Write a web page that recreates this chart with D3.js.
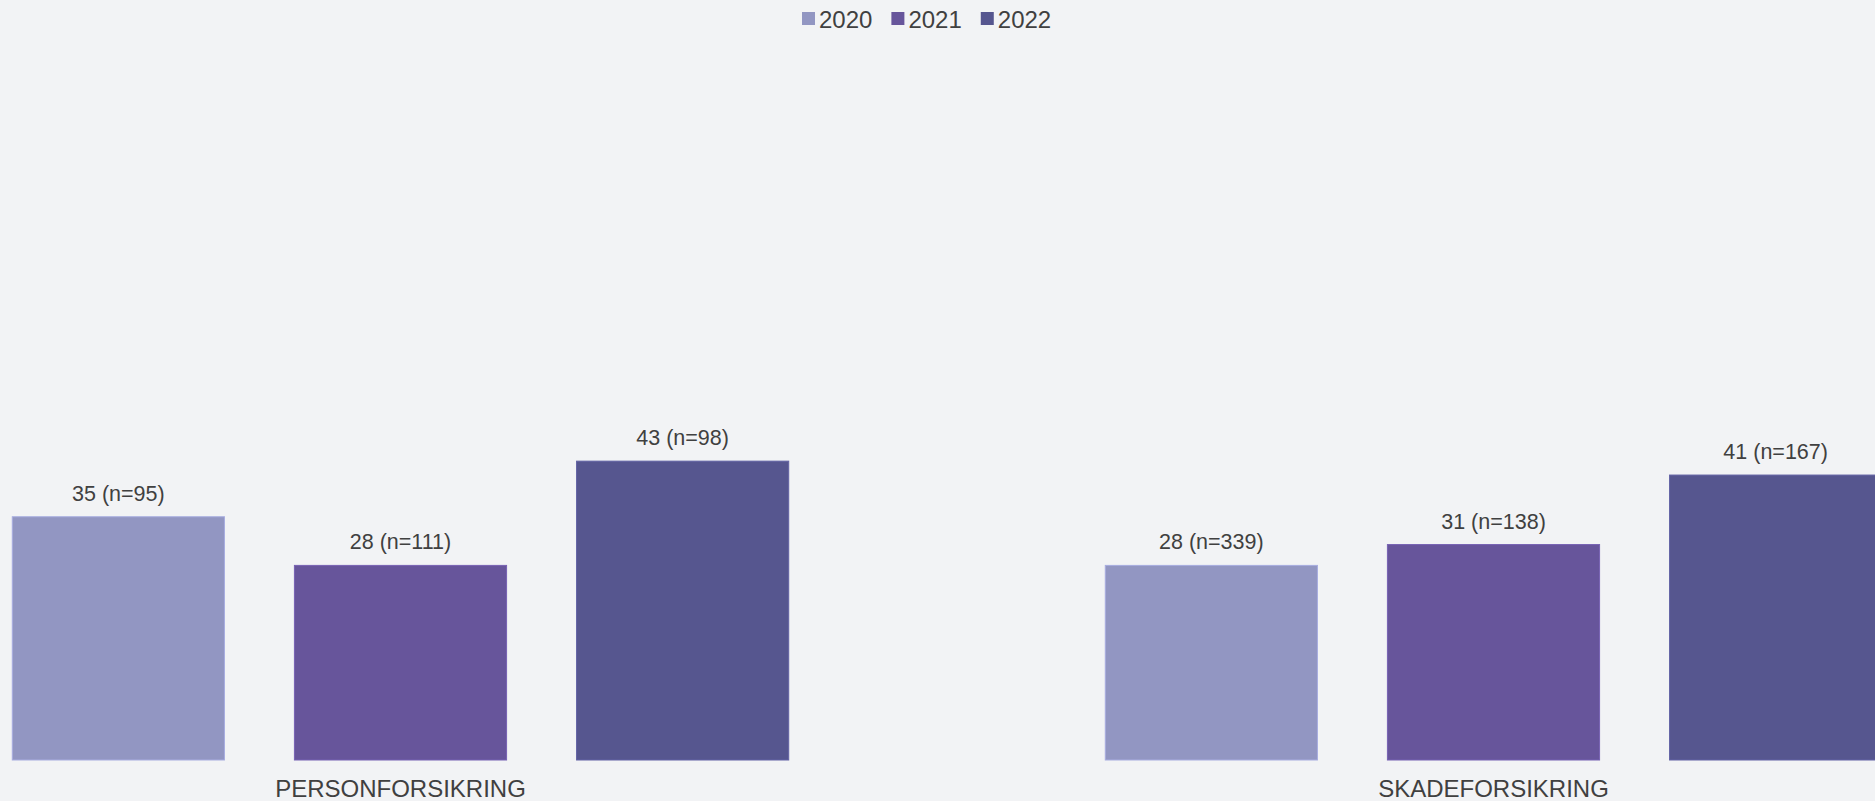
<!DOCTYPE html>
<html>
<head>
<meta charset="utf-8">
<script src="https://cdn.jsdelivr.net/npm/d3@7"></script>
<style>
  html, body { margin: 0; padding: 0; background: #f2f3f5; overflow: hidden; }
  svg { display: block; font-family: "Liberation Sans", Arial, sans-serif; }
</style>
</head>
<body>
<div id="chart"></div>
<script>
const categories = ['PERSONFORSIKRING', 'SKADEFORSIKRING'];
const years = ['2020', '2021', '2022'];
const values = {
  PERSONFORSIKRING: [35, 28, 43],
  SKADEFORSIKRING: [28, 31, 41]
};
const counts = {
  PERSONFORSIKRING: [95, 111, 98],
  SKADEFORSIKRING: [339, 138, 167]
};
const colors = ['#9296c2', '#67559b', '#56568f'];

const width = 1875;
const height = 801;
const baseline = 760;

const svg = d3.select('#chart')
  .append('svg')
  .attr('width', width)
  .attr('height', height)
  .style('background-color', '#f2f3f5');

// groups run a bit past the window on both sides, like the original
const x0 = d3.scaleBand()
  .domain(categories)
  .range([-146, 2040])
  .padding(0);

const x1 = d3.scaleBand()
  .domain(years)
  .range([0, x0.bandwidth()])
  .paddingInner(0.248)
  .paddingOuter(0.561);

const y = d3.scaleLinear()
  .domain([0, 100])
  .range([baseline, 65]);

const color = d3.scaleOrdinal().domain(years).range(colors);

const rows = categories.flatMap(c => years.map((yr, i) => ({
  cat: c,
  year: yr,
  value: values[c][i],
  n: counts[c][i]
})));

const groups = svg.selectAll('.group')
  .data(categories)
  .join('g')
  .attr('class', 'group')
  .attr('transform', d => `translate(${x0(d)},0)`);

groups.selectAll('rect')
  .data(c => rows.filter(r => r.cat === c))
  .join('rect')
  .attr('x', d => x1(d.year))
  .attr('y', d => y(d.value))
  .attr('width', x1.bandwidth())
  .attr('height', d => y(0) - y(d.value))
  .attr('fill', d => color(d.year))
  .attr('stroke', d => d3.color(color(d.year)).brighter(0.4))
  .attr('stroke-width', 1);

groups.selectAll('.val')
  .data(c => rows.filter(r => r.cat === c))
  .join('text')
  .attr('class', 'val')
  .attr('x', d => x1(d.year) + x1.bandwidth() / 2)
  .attr('y', d => y(d.value) - 16)
  .attr('text-anchor', 'middle')
  .attr('font-size', 21.5)
  .attr('fill', '#404040')
  .text(d => `${d.value} (n=${d.n})`);

// category labels under the groups
const xAxis = svg.append('g')
  .attr('transform', `translate(0,${baseline})`)
  .call(d3.axisBottom(x0).tickSize(0).tickPadding(20));
xAxis.select('.domain').remove();
xAxis.selectAll('text')
  .attr('font-size', 24)
  .attr('font-family', '"Liberation Sans", Arial, sans-serif')
  .attr('fill', '#404040')
  .attr('dy', '0.71em');

// legend
const legend = svg.append('g').attr('transform', 'translate(802,0)');
let lx = 0;
years.forEach((yr, i) => {
  const item = legend.append('g').attr('transform', `translate(${lx},0)`);
  item.append('rect')
    .attr('x', 0)
    .attr('y', 12)
    .attr('width', 13)
    .attr('height', 13)
    .attr('fill', colors[i]);
  const t = item.append('text')
    .attr('x', 17)
    .attr('y', 27.5)
    .attr('font-size', 24)
    .attr('fill', '#404040')
    .text(yr);
  lx += 17 + t.node().getComputedTextLength() + 19;
});
</script>
</body>
</html>
